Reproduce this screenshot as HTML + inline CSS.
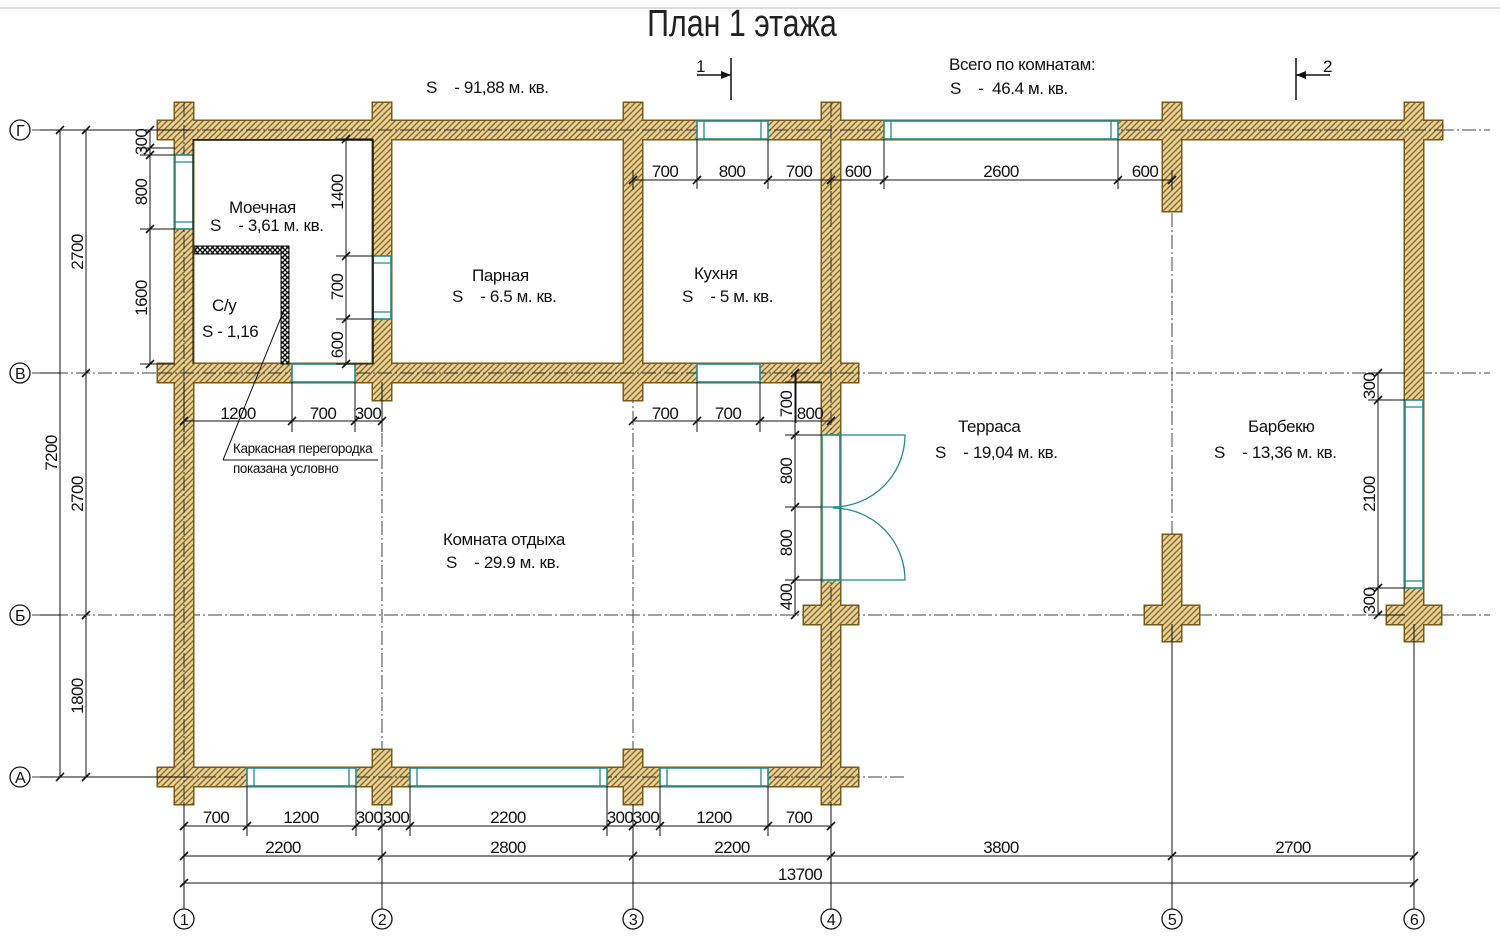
<!DOCTYPE html>
<html><head><meta charset="utf-8">
<style>
html,body{margin:0;padding:0;background:#fff;}
svg{display:block;}
text{font-family:"Liberation Sans Narrow","Liberation Sans",sans-serif;fill:#111;}
.d{font-size:17px;text-anchor:middle;letter-spacing:-0.6px;}
.l{font-size:17px;letter-spacing:-0.4px;}
</style></head><body>
<svg width="1500" height="939" viewBox="0 0 1500 939" xmlns="http://www.w3.org/2000/svg">
<defs>
<pattern id="h" patternUnits="userSpaceOnUse" width="6" height="6">
<rect width="6" height="6" fill="#e6d09c"/>
<path d="M-1,7 L7,-1 M-1,1 L1,-1 M5,7 L7,5" stroke="#8c6a1f" stroke-width="1.4"/>
</pattern>
<pattern id="x" patternUnits="userSpaceOnUse" width="5" height="5">
<rect width="5" height="5" fill="#fff"/>
<path d="M0,0 L5,5 M5,0 L0,5" stroke="#111" stroke-width="1.4"/>
</pattern>
</defs>
<line x1="0" y1="8" x2="1500" y2="8" stroke="#bbb" stroke-width="1"/>
<text transform="translate(742,36) scale(0.8,1)" font-size="38" text-anchor="middle" style="fill:#222">План 1 этажа</text>

<!-- axes -->
<g stroke="#444" stroke-width="1" stroke-dasharray="14,3,2,3" fill="none">
<line x1="32" y1="130" x2="1490" y2="130"/>
<line x1="32" y1="373" x2="1490" y2="373"/>
<line x1="32" y1="615" x2="1490" y2="615"/>
<line x1="32" y1="777" x2="905" y2="777"/>
<line x1="184" y1="103" x2="184" y2="908"/>
<line x1="382" y1="103" x2="382" y2="908"/>
<line x1="633" y1="103" x2="633" y2="908"/>
<line x1="831" y1="103" x2="831" y2="908"/>
<line x1="1172" y1="103" x2="1172" y2="908"/>
<line x1="1414" y1="103" x2="1414" y2="908"/>
</g>

<!-- walls outline -->
<g stroke="#7a5a14" stroke-width="3" fill="none">
<rect x="158" y="121" width="1284" height="18"/>
<rect x="175" y="103" width="18" height="701"/>
<rect x="373" y="103" width="18" height="297"/>
<rect x="373" y="750" width="18" height="54"/>
<rect x="624" y="103" width="18" height="297"/>
<rect x="624" y="750" width="18" height="54"/>
<rect x="822" y="103" width="18" height="701"/>
<rect x="1163" y="103" width="18" height="108"/>
<rect x="1163" y="535" width="18" height="106"/>
<rect x="1405" y="103" width="18" height="538"/>
<rect x="158" y="364" width="700" height="18"/>
<rect x="158" y="768" width="700" height="18"/>
<rect x="804" y="606" width="54" height="18"/>
<rect x="1145" y="606" width="54" height="18"/>
<rect x="1387" y="606" width="54" height="18"/>
</g>
<g fill="url(#h)">
<rect x="158" y="121" width="1284" height="18"/>
<rect x="175" y="103" width="18" height="701"/>
<rect x="373" y="103" width="18" height="297"/>
<rect x="373" y="750" width="18" height="54"/>
<rect x="624" y="103" width="18" height="297"/>
<rect x="624" y="750" width="18" height="54"/>
<rect x="822" y="103" width="18" height="701"/>
<rect x="1163" y="103" width="18" height="108"/>
<rect x="1163" y="535" width="18" height="106"/>
<rect x="1405" y="103" width="18" height="538"/>
<rect x="158" y="364" width="700" height="18"/>
<rect x="158" y="768" width="700" height="18"/>
<rect x="804" y="606" width="54" height="18"/>
<rect x="1145" y="606" width="54" height="18"/>
<rect x="1387" y="606" width="54" height="18"/>
</g>
<g stroke="#333" stroke-width="1" stroke-dasharray="14,3,2,3">
<line x1="158" y1="130" x2="1442" y2="130"/>
<line x1="158" y1="373" x2="858" y2="373"/>
<line x1="158" y1="777" x2="858" y2="777"/>
<line x1="184" y1="103" x2="184" y2="804"/>
<line x1="831" y1="103" x2="831" y2="804"/>
</g>

<!-- windows -->
<g fill="#fff" stroke="#1f8c8c" stroke-width="1.6">
<rect x="697" y="121" width="71" height="18"/>
<rect x="884" y="121" width="234" height="18"/>
<rect x="175" y="155" width="18" height="74"/>
<rect x="373" y="256" width="18" height="63"/>
<rect x="292" y="364" width="63" height="18"/>
<rect x="697" y="364" width="63" height="18"/>
<rect x="247" y="768" width="109" height="18"/>
<rect x="410" y="768" width="197" height="18"/>
<rect x="660" y="768" width="108" height="18"/>
<rect x="822" y="435" width="18" height="145"/>
<rect x="1405" y="400" width="18" height="188"/>
</g>
<g stroke="#1f8c8c" stroke-width="1.3" fill="none">
<path d="M704,121v18 M761,121v18 M891,121v18 M1111,121v18 M175,162h18 M175,222h18 M373,263h18 M373,312h18 M254,768v18 M349,768v18 M417,768v18 M600,768v18 M667,768v18 M761,768v18 M1405,407h18 M1405,581h18 M822,507h18"/>
<path d="M833,435 H905 A72,72 0 0 1 833,507"/>
<path d="M833,580 H905 A72,72 0 0 0 833,508"/>
</g>

<!-- partition -->
<rect x="195" y="246" width="93" height="8" fill="url(#x)" stroke="#111" stroke-width="1"/>
<rect x="281" y="246" width="8" height="118" fill="url(#x)" stroke="#111" stroke-width="1"/>
<polyline points="193,140 373,140 373,364" fill="none" stroke="#111" stroke-width="1.5"/>
<polyline points="193,364 193,139" fill="none" stroke="#111" stroke-width="1"/>
<line x1="284" y1="310" x2="223" y2="460" stroke="#111" stroke-width="1"/>
<line x1="223" y1="460" x2="378" y2="460" stroke="#111" stroke-width="1"/>

<!-- dimension lines -->
<g stroke="#111" stroke-width="1" fill="none">
<line x1="60" y1="130" x2="60" y2="777"/>
<line x1="86" y1="130" x2="86" y2="777"/>
<line x1="150" y1="130" x2="150" y2="364"/>
<line x1="346" y1="139" x2="346" y2="364"/>
<line x1="633" y1="180" x2="1172" y2="180"/>
<line x1="184" y1="421" x2="382" y2="421"/>
<line x1="633" y1="421" x2="831" y2="421"/>
<line x1="795" y1="373" x2="795" y2="615"/>
<line x1="1378" y1="373" x2="1378" y2="615"/>
<line x1="184" y1="826" x2="831" y2="826"/>
<line x1="184" y1="856" x2="1414" y2="856"/>
<line x1="184" y1="883" x2="1414" y2="883"/>
<path d="M40,130h150 M40,777h150 M40,373h20 M40,615h20 M140,148h35 M140,155h35 M140,229h35 M140,364h35 M336,139h37 M336,256h37 M336,319h37 M336,364h37 M633,170v20 M697,139v50 M768,139v50 M831,170v20 M884,139v50 M1118,139v50 M1172,170v20 M292,382v50 M355,382v50 M382,382v50 M184,382v50 M697,382v50 M760,382v50 M785,435h37 M785,507h37 M785,580h37 M785,382h37 M1368,400h37 M1368,588h37 M1368,373h37 M1368,615h37 M247,786v50 M356,786v50 M410,786v50 M607,786v50 M660,786v50 M768,786v50 M382,804v80 M633,804v80 M831,804v80 M184,804v110 M382,884v26 M633,884v26 M831,884v26 M1172,624v286 M1414,624v286 M796,373v50"/>
</g>
<g stroke="#111" stroke-width="1.6">
<path d="M56,134l8,-8 M56,781l8,-8 M82,134l8,-8 M82,377l8,-8 M82,619l8,-8 M82,781l8,-8 M146,134l8,-8 M146,152l8,-8 M146,159l8,-8 M146,233l8,-8 M146,368l8,-8 M342,143l8,-8 M342,260l8,-8 M342,323l8,-8 M342,368l8,-8 M629,184l8,-8 M693,184l8,-8 M764,184l8,-8 M827,184l8,-8 M880,184l8,-8 M1114,184l8,-8 M1168,184l8,-8 M180,425l8,-8 M288,425l8,-8 M351,425l8,-8 M378,425l8,-8 M629,425l8,-8 M693,425l8,-8 M756,425l8,-8 M827,425l8,-8 M791,377l8,-8 M791,439l8,-8 M791,511l8,-8 M791,584l8,-8 M791,619l8,-8 M1374,377l8,-8 M1374,404l8,-8 M1374,592l8,-8 M1374,619l8,-8 M180,830l8,-8 M243,830l8,-8 M352,830l8,-8 M378,830l8,-8 M406,830l8,-8 M603,830l8,-8 M629,830l8,-8 M656,830l8,-8 M764,830l8,-8 M827,830l8,-8 M180,860l8,-8 M378,860l8,-8 M629,860l8,-8 M827,860l8,-8 M1168,860l8,-8 M1410,860l8,-8 M180,887l8,-8 M1410,887l8,-8"/>
</g>

<g class="d">
<text x="665" y="177">700</text><text x="732" y="177">800</text><text x="799" y="177">700</text>
<text x="858" y="177">600</text><text x="1001" y="177">2600</text><text x="1145" y="177">600</text>
<text x="238" y="419">1200</text><text x="323" y="419">700</text><text x="368" y="419">300</text>
<text x="665" y="419">700</text><text x="728" y="419">700</text><text x="810" y="419">800</text>
<text x="216" y="823">700</text><text x="301" y="823">1200</text><text x="369" y="823">300</text><text x="396" y="823">300</text>
<text x="508" y="823">2200</text><text x="620" y="823">300</text><text x="646" y="823">300</text>
<text x="714" y="823">1200</text><text x="799" y="823">700</text>
<text x="283" y="853">2200</text><text x="508" y="853">2800</text><text x="732" y="853">2200</text>
<text x="1001" y="853">3800</text><text x="1293" y="853">2700</text>
<text x="800" y="880">13700</text>
<text transform="translate(57,453) rotate(-90)">7200</text>
<text transform="translate(83,252) rotate(-90)">2700</text>
<text transform="translate(83,494) rotate(-90)">2700</text>
<text transform="translate(83,696) rotate(-90)">1800</text>
<text transform="translate(147,142) rotate(-90)">300</text>
<text transform="translate(147,192) rotate(-90)">800</text>
<text transform="translate(147,298) rotate(-90)">1600</text>
<text transform="translate(343,192) rotate(-90)">1400</text>
<text transform="translate(343,287) rotate(-90)">700</text>
<text transform="translate(343,345) rotate(-90)">600</text>
<text transform="translate(792,404) rotate(-90)">700</text>
<text transform="translate(792,471) rotate(-90)">800</text>
<text transform="translate(792,543) rotate(-90)">800</text>
<text transform="translate(792,597) rotate(-90)">400</text>
<text transform="translate(1375,386) rotate(-90)">300</text>
<text transform="translate(1375,494) rotate(-90)">2100</text>
<text transform="translate(1375,601) rotate(-90)">300</text>
</g>

<g class="l">
<text x="229" y="213">Моечная</text>
<text x="210" y="231">S&#160;&#160;&#160;&#160;- 3,61 м. кв.</text>
<text x="212" y="311">С/у</text>
<text x="202" y="337">S - 1,16</text>
<text x="472" y="281">Парная</text>
<text x="452" y="302">S&#160;&#160;&#160;&#160;- 6.5 м. кв.</text>
<text x="694" y="279">Кухня</text>
<text x="682" y="302">S&#160;&#160;&#160;&#160;- 5 м. кв.</text>
<text x="443" y="545">Комната отдыха</text>
<text x="446" y="568">S&#160;&#160;&#160;&#160;- 29.9 м. кв.</text>
<text x="958" y="432">Терраса</text>
<text x="935" y="458">S&#160;&#160;&#160;&#160;- 19,04 м. кв.</text>
<text x="1248" y="432">Барбекю</text>
<text x="1214" y="458">S&#160;&#160;&#160;&#160;- 13,36 м. кв.</text>
<text x="426" y="93">S&#160;&#160;&#160;&#160;- 91,88 м. кв.</text>
<text x="949" y="70">Всего по комнатам:</text>
<text x="950" y="94">S&#160;&#160;&#160;&#160;-&#160;&#160;46.4 м. кв.</text>
<text x="233" y="453" font-size="13.5">Каркасная перегородка</text>
<text x="233" y="473" font-size="13.5">показана условно</text>
<text x="696" y="72">1</text>
<text x="1323" y="72">2</text>
</g>
<g stroke="#111" stroke-width="1.5" fill="none">
<path d="M731,58v42 M697,75h34"/>
<path d="M1296,58v42 M1296,75h34"/>
</g>
<path d="M731,75 l-10,-4 v8z M1296,75 l10,-4 v8z" fill="#111"/>

<g fill="#fff" stroke="#111" stroke-width="1.3">
<circle cx="20" cy="130" r="10"/><circle cx="20" cy="373" r="10"/><circle cx="20" cy="615" r="10"/><circle cx="20" cy="777" r="10"/>
<circle cx="184" cy="919" r="10"/><circle cx="382" cy="919" r="10"/><circle cx="633" cy="919" r="10"/><circle cx="831" cy="919" r="10"/><circle cx="1172" cy="919" r="10"/><circle cx="1414" cy="919" r="10"/>
</g>
<g class="d" style="font-size:16px">
<text x="20" y="136">Г</text><text x="20" y="379">В</text><text x="20" y="621">Б</text><text x="20" y="783">А</text>
<text x="184" y="925">1</text><text x="382" y="925">2</text><text x="633" y="925">3</text><text x="831" y="925">4</text><text x="1172" y="925">5</text><text x="1414" y="925">6</text>
</g>
</svg>
</body></html>
